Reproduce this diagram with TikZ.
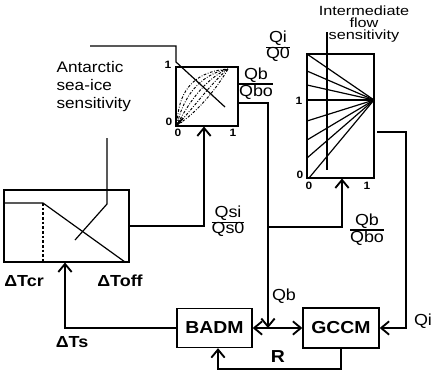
\documentclass[tikz,border=0pt]{standalone}
\usepackage{fontspec}
\setmainfont{Liberation Sans}[FakeStretch=1.12]
\newfontfamily\widefont{Liberation Sans}[FakeStretch=1.22]
\usetikzlibrary{arrows.meta}
\newcommand{\qfrac}[2]{{\renewcommand{\arraystretch}{0.78}\setlength{\arrayrulewidth}{0.8pt}\begin{tabular}{@{}c@{}}#1\\\hline #2\end{tabular}}}
\begin{document}
\begin{tikzpicture}[x=0.75pt,y=-0.75pt, line width=0.9pt,
  arr/.style={-{Straight Barb[length=6pt,width=10pt,line width=1.4pt]}},
  box/.style={draw, inner sep=0pt, line width=1pt},
  lab/.style={font=\fontsize{11.5}{13.5}\selectfont, inner sep=0pt, align=left},
  blab/.style={font=\fontsize{12}{13}\selectfont\bfseries, inner sep=0pt},
  bigb/.style={font=\fontsize{13}{14}\selectfont\bfseries, inner sep=0pt},
  num/.style={font=\fontsize{8}{9}\selectfont\bfseries, inner sep=0pt},
  frac/.style={font=\fontsize{12}{13}\selectfont, inner sep=0pt},
  curve/.style={line width=0.7pt, dash pattern=on 2pt off 1.2pt on 0.6pt off 1.2pt}]
\useasboundingbox (0,0) rectangle (432,372);

% boxes
\node[box, minimum width=93.75pt, minimum height=54pt] (leftbox) at (66.5,226) {};
\node[box, minimum width=46.5pt, minimum height=44.25pt] (smallbox) at (207,96.5) {};
\node[box, minimum width=50.25pt, minimum height=93pt] (tallbox) at (340.5,116) {};
\node[box, minimum width=56.25pt, minimum height=29.25pt, bigb] (badm) at (214.5,328) {BADM};
\node[box, minimum width=57pt, minimum height=30pt, bigb] (gccm) at (341,328) {GCCM};

% left box content
\coordinate (lk1) at (4,203);
\coordinate (lk2) at (43,203);
\coordinate (lk3) at (125,262);
\coordinate (lk4) at (43,262);
\draw (lk1) -- (lk2) -- (lk3);
\draw[dashed, dash pattern=on 2pt off 1.5pt] (lk2) -- (lk4);

% small box content
\coordinate (s0) at (177,125);
\coordinate (s1) at (228,69);
\draw[curve] (s0) .. controls (178,95) and (190,72) .. (s1);
\draw[curve] (s0) .. controls (182,101) and (197,75) .. (s1);
\draw[curve] (s0) .. controls (187,106) and (204,79) .. (s1);
\draw[curve] (s0) .. controls (192,110) and (211,83) .. (s1);
\draw[curve] (s0) .. controls (197,113) and (217,88) .. (s1);
\coordinate (sa1) at (183,118);
\draw[-{Latex[length=4pt,width=4pt]}, line width=1.2pt] (sa1) -- (s0);

% tall box fan
\coordinate (fc) at (374,100);
\foreach \yy in {54,71,85,100,121,140,158} {\draw (307,\yy) -- (fc);}
\coordinate (fb) at (309,178);
\draw (fb) -- (fc);

% leader lines
\coordinate (a1) at (90,46);
\coordinate (a2) at (176,46);
\coordinate (a3) at (176,62);
\coordinate (a4) at (225,107);
\draw (a1) -- (a2) -- (a3) -- (a4);
\coordinate (b1) at (107,138);
\coordinate (b2) at (107,204);
\coordinate (b3) at (75,240);
\draw (b1) -- (b2) -- (b3);
\coordinate (c1) at (327,32);
\coordinate (c2) at (327,170);
\draw (c1) -- (c2);

% connectors
\coordinate (sIn) at (204,126.5);
\draw[arr] (leftbox.east) -| (sIn);
\coordinate (sOut) at (238,103);
\coordinate (qbJ) at (268,328);
\draw[arr] (sOut) -| (qbJ);
\draw[arr] (qbJ) -- (badm.east);
\draw[arr] (qbJ) -- (gccm.west);
\coordinate (br) at (268,227);
\coordinate (tIn) at (342,178.5);
\draw[arr] (br) -| (tIn);
\coordinate (tOut) at (377,132);
\coordinate (qiB) at (406,328);
\draw[arr] (tOut) -| (qiB) -- (gccm.east);
\coordinate (loopL) at (218,369);
\draw[arr] (gccm.south) |- (loopL) -- (loopL |- badm.south);
\coordinate (lIn) at (65,262.5);
\draw[arr] (badm.west) -| (lIn);

% texts
\node[lab, anchor=north west] (ant) at (56,61) {Antarctic\\sea-ice\\sensitivity};
\node[font=\widefont\fontsize{10}{9}\selectfont, inner sep=0pt, align=center, anchor=north] (inter) at (364,5) {Intermediate\\flow\\sensitivity};
\node[frac] (f1) at (256,84) {\qfrac{Qb}{Qbo}};
\node[frac] (f2) at (228,222) {\qfrac{Qsi}{Qs0}};
\node[frac] (f3) at (367,230) {\qfrac{Qb}{Qbo}};
\node[frac] (f4) at (278,47) {\qfrac{Qi}{Q0}};
\node[blab] (tcr) at (24,281) {ΔTcr};
\node[blab] (toff) at (120,281) {ΔToff};
\node[blab] (ts) at (72,342) {ΔTs};
\node[frac] (qb) at (284,296) {Qb};
\node[bigb] (r) at (278,357) {R};
\node[frac] (qi) at (423,321) {Qi};

% axis numbers
\node[num] (n1) at (168,65) {1};
\node[num] (n2) at (169,122) {0};
\node[num] (n3) at (178,133) {0};
\node[num] (n4) at (233,133) {1};
\node[num] (n5) at (299,101) {1};
\node[num] (n6) at (300,175) {0};
\node[num] (n7) at (309,186) {0};
\node[num] (n8) at (367,186) {1};
\end{tikzpicture}
\end{document}
